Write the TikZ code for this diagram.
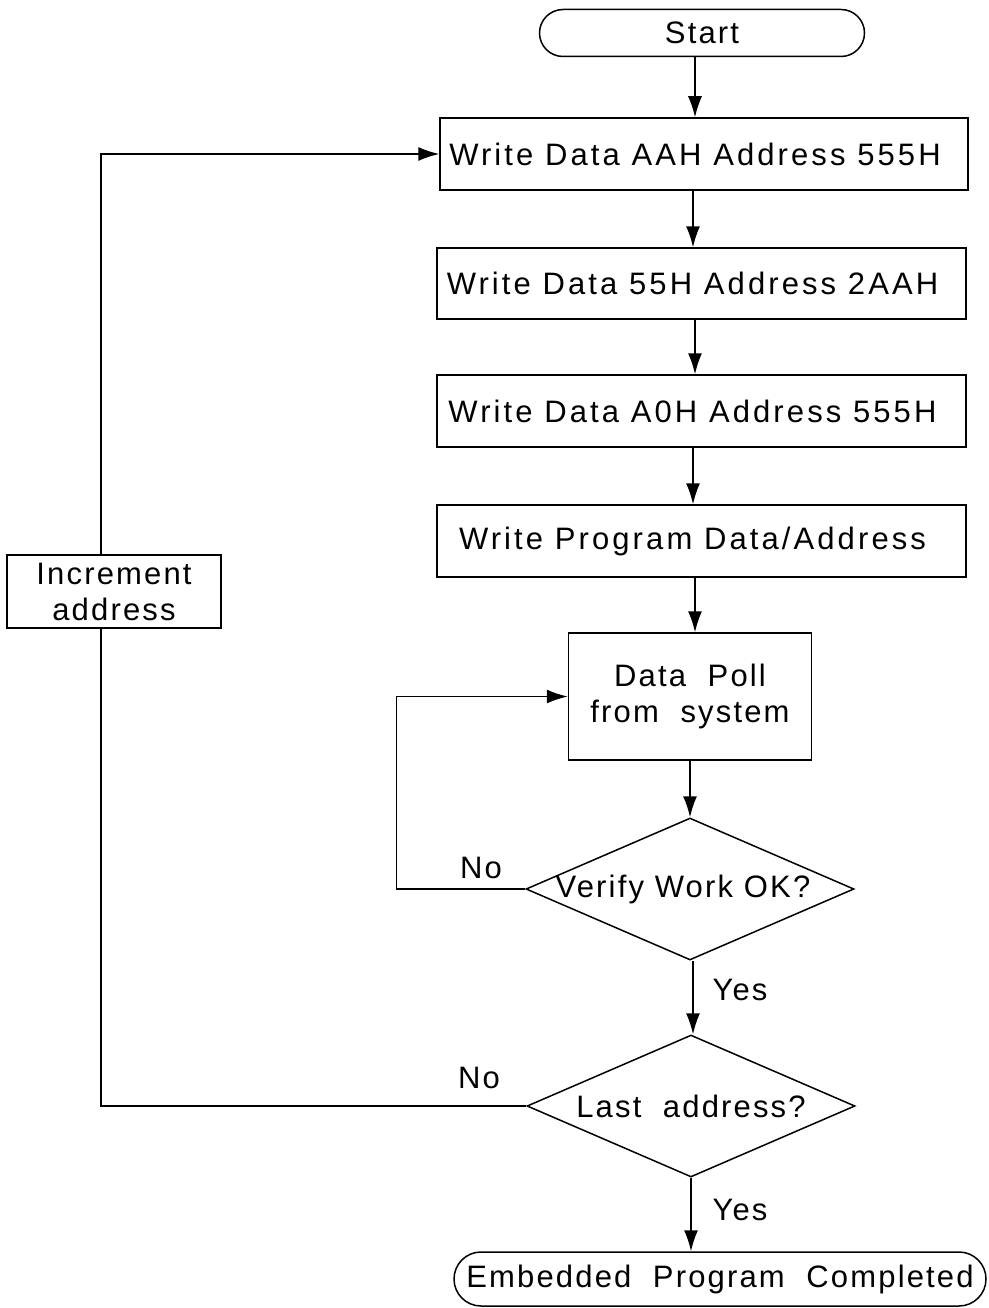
\documentclass[tikz,border=0pt]{standalone}
\usepackage{fontspec}
\setmainfont[LetterSpace=7]{Liberation Sans}
\usetikzlibrary{arrows.meta,shapes.geometric,shapes.misc}
\tikzset{>={Latex[length=21pt,width=14pt]}}
\tikzset{
    proc/.style={draw,line width=1.5pt,rectangle,inner sep=0pt,align=center},
    wide/.style={proc,font=\fontsize{31}{36}\selectfont\addfontfeature{LetterSpace=10},
        execute at end node=\hspace{18pt}},
    term/.style={draw,line width=1.5pt,rounded rectangle,inner sep=0pt},
    cond/.style={draw,line width=1.5pt,diamond,inner sep=0pt,
        minimum width=328pt,minimum height=142pt},
    flow/.style={->,line width=1.5pt},
}

\begin{document}
\begin{tikzpicture}[x=1pt,y=-1pt,font=\fontsize{31}{36}\selectfont]
            \useasboundingbox (0,0) rectangle (988,1308);
            \node[term,minimum width=325pt,minimum height=47pt] (start) at (702,33) {Start};
            \node[wide,minimum width=528pt,minimum height=72pt] (w1) at (704,154)
                {Write Data AAH Address 555H};
            \node[wide,minimum width=529pt,minimum height=71pt] (w2) at (701.5,283.5)
                {Write Data 55H Address 2AAH};
            \node[wide,minimum width=529pt,minimum height=72pt] (w3) at (701.5,411)
                {Write Data A0H Address 555H};
            \node[wide,minimum width=529pt,minimum height=72pt] (w4) at (701.5,541)
                {Write Program Data/Address};
            \node[proc,minimum width=243pt,minimum height=127pt] (poll) at (690,696.5)
                {Data~~Poll\\from~~system};
            \node[cond,label={[xshift=-7pt]center:Verify Work OK?}] (verify) at (690,889) {};
            \node[cond,label={center:Last~~address?}] (last) at (691,1106) {};
            \node[term,minimum width=532pt,minimum height=54pt] (done) at (720,1279)
                {Embedded~~Program~~Completed};
            \node[proc,minimum width=214pt,minimum height=73pt] (inc) at (114,591.5)
                {Increment\\address};
            \coordinate (back) at (101,155);
            \draw[flow] (start.south -| 695,0) -- (w1.north -| 695,0);
            \draw[flow] (w1.south -| 693,0) -- (w2.north -| 693,0);
            \draw[flow] (w2.south -| 695,0) -- (w3.north -| 695,0);
            \draw[flow] (w3.south -| 693,0) -- (w4.north -| 693,0);
            \draw[flow] (w4.south -| 695,0) -- (poll.north -| 695,0);
            \draw[flow] (poll.south) -- (verify.north);
            \draw[flow] (verify.south -| 693,0) -- (last.north -| 693,0);
            \draw[flow] (last.south) -- (last.south |- done.north);
            \draw[flow] (verify.west) -- ++(-129,0) |- (poll.west);
            \draw[line width=1.5pt] (last.west) -| (back |- inc.south);
            \draw[flow] (back |- inc.north) |- (w1.west);
            \node (no1) at (481,868) {No};
            \node (no2) at (479,1078) {No};
            \node (yes1) at (740,990) {Yes};
            \node (yes2) at (740,1210) {Yes};
        \end{tikzpicture}
\end{document}
